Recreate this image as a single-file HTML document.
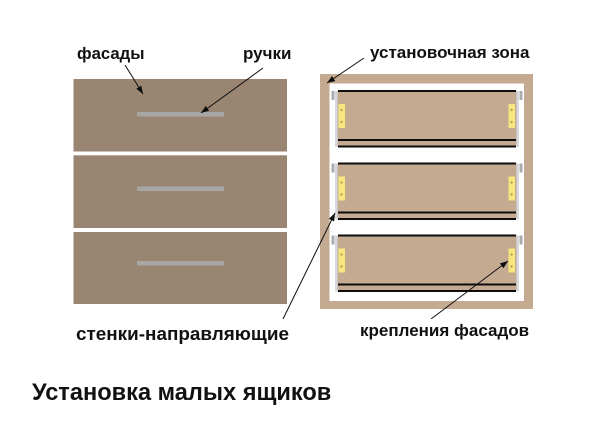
<!DOCTYPE html>
<html><head><meta charset="utf-8"><style>
html,body{margin:0;padding:0;background:#fff}
svg{display:block}
text{font-family:"Liberation Sans",sans-serif;font-weight:bold;fill:#111}
</style></head><body>
<svg width="600" height="424" viewBox="0 0 600 424" xmlns="http://www.w3.org/2000/svg">
<defs>
<filter id="soft" x="0" y="0" width="100%" height="100%"><feGaussianBlur stdDeviation="0.35"/></filter>
<marker id="a" markerWidth="9" markerHeight="7" refX="8" refY="3" orient="auto" markerUnits="userSpaceOnUse"><path d="M0 0L8 3L0 6z" fill="#111"/></marker>
<g id="dr">
<rect x="337" y="0" width="180" height="55" fill="#c4aa90"/>
<rect x="335" y="0" width="2.5" height="56" fill="#d6d9de"/>
<rect x="516.5" y="0" width="2.5" height="56" fill="#d6d9de"/>
<rect x="331.5" y="0" width="3" height="9" fill="#a9adb2"/>
<rect x="519.5" y="0" width="3" height="9" fill="#a9adb2"/>
<rect x="338" y="-1" width="178" height="2" fill="#111"/>
<rect x="338.5" y="13" width="6.5" height="24" fill="#f7e77e"/>
<rect x="508.5" y="13" width="6.5" height="24" fill="#f7e77e"/>
<circle cx="341.5" cy="19" r="1.2" fill="#b9a25c"/><circle cx="341.5" cy="31" r="1.2" fill="#b9a25c"/>
<circle cx="511.5" cy="19" r="1.2" fill="#b9a25c"/><circle cx="511.5" cy="31" r="1.2" fill="#b9a25c"/>
<rect x="338" y="48" width="178" height="2" fill="#111"/>
<rect x="338" y="54.500" width="178" height="2" fill="#111"/>
</g>
</defs>
<g filter="url(#soft)">
<rect x="73.500" y="79" width="213.500" height="72.500" fill="#9a8573"/>
<rect x="73.500" y="155.300" width="213.500" height="72.700" fill="#9a8573"/>
<rect x="73.500" y="232" width="213.500" height="72" fill="#9a8573"/>
<rect x="137" y="112" width="87" height="4.500" fill="#a7a6a4"/>
<rect x="137" y="186.500" width="87" height="4.500" fill="#a7a6a4"/>
<rect x="137" y="261" width="87" height="4.500" fill="#a7a6a4"/>
<rect x="320" y="74" width="213" height="235" fill="#c4aa90"/>
<rect x="329.500" y="83.500" width="194.500" height="217.500" fill="#fff"/>
<use href="#dr" y="91"/>
<use href="#dr" y="163.500"/>
<use href="#dr" y="235.500"/>
<g stroke="#111" stroke-width="1" fill="none" marker-end="url(#a)">
<line x1="125" y1="65" x2="143" y2="94"/>
<line x1="263" y1="68" x2="201" y2="113"/>
<line x1="364" y1="58" x2="327" y2="83"/>
<line x1="283" y1="319" x2="335" y2="213"/>
<line x1="431" y1="319" x2="508" y2="261"/>
</g>
</g>
<text x="77" y="59" font-size="16.700">фасады</text>
<text x="243" y="59" font-size="17">ручки</text>
<text x="370" y="58" font-size="17">установочная зона</text>
<text x="360" y="336" font-size="17">крепления фасадов</text>
<text x="76" y="340" font-size="18.900">стенки-направляющие</text>
<text x="32" y="400" font-size="23.600">Установка малых ящиков</text>
</svg>
</body></html>
